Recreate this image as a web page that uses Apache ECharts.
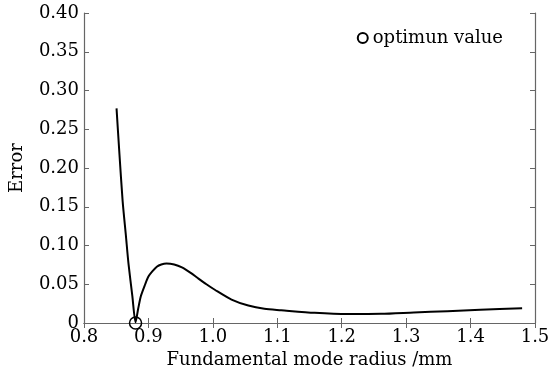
<!DOCTYPE html>
<html>
<head>
<meta charset="utf-8">
<script src="https://cdn.jsdelivr.net/npm/echarts@6/dist/echarts.min.js"></script>
<style>html,body{margin:0;padding:0;background:#fff;}#c{width:558px;height:374px;}</style>
</head>
<body>
<div id="c"></div>
<script>
// Data
const radius = [0.8505, 0.855, 0.860, 0.865, 0.869, 0.875, 0.880, 0.884, 0.888, 0.895, 0.900, 0.906, 0.913, 0.920, 0.928, 0.940, 0.952, 0.965, 0.977, 0.990, 1.003, 1.029, 1.055, 1.080, 1.106, 1.158, 1.209, 1.261, 1.312, 1.364, 1.415, 1.480];
const errorVals = [0.277, 0.218, 0.157, 0.113, 0.077, 0.035, 0.001, 0.018, 0.034, 0.050, 0.060, 0.0665, 0.0726, 0.0755, 0.0768, 0.0755, 0.0717, 0.0650, 0.0577, 0.0500, 0.0429, 0.0302, 0.0225, 0.0183, 0.0165, 0.0131, 0.0115, 0.0118, 0.0136, 0.0153, 0.0170, 0.0191];
const optimum = [[0.880, 0.0]];
const optimumName = 'optimun value';
const xTitle = 'Fundamental mode radius /mm';
const yTitle = 'Error';

const font = 'DejaVu Serif';
const fs = 18;
const axisColor = '#666';
const chart = echarts.init(document.getElementById('c'));
const commonX = {
  type: 'value', min: 0.8, max: 1.5, interval: 0.1,
  axisLine: { show: true, lineStyle: { color: axisColor, width: 1.2 } },
  axisTick: { show: true, inside: true, length: 5, lineStyle: { color: axisColor } },
  splitLine: { show: false }
};
const commonY = {
  type: 'value', min: 0, max: 0.4, interval: 0.05,
  axisLine: { show: true, lineStyle: { color: axisColor, width: 1.2 } },
  axisTick: { show: true, inside: true, length: 5, lineStyle: { color: axisColor } },
  splitLine: { show: false }
};
chart.setOption({
  animation: false,
  backgroundColor: '#fff',
  grid: { left: 82, right: 23, top: 13, bottom: 47, containLabel: false },
  legend: {
    data: [{ name: optimumName, icon: 'circle' }],
    right: 50, top: 24, itemWidth: 10, itemHeight: 10, itemGap: 4,
    textStyle: { fontFamily: font, fontSize: fs, color: '#000' }
  },
  xAxis: [
    Object.assign({}, commonX, {
      position: 'bottom',
      name: xTitle, nameLocation: 'middle', nameGap: 28,
      nameTextStyle: { fontFamily: font, fontSize: fs, color: '#000' },
      axisLabel: { fontFamily: font, fontSize: fs, color: '#000', margin: 5,
        formatter: v => v.toFixed(1) }
    }),
    Object.assign({}, commonX, { position: 'top', axisLabel: { show: false } })
  ],
  yAxis: [
    Object.assign({}, commonY, {
      position: 'left',
      name: yTitle, nameLocation: 'middle', nameGap: 58,
      nameTextStyle: { fontFamily: font, fontSize: fs, color: '#000' },
      axisLabel: { fontFamily: font, fontSize: fs, color: '#000', margin: 5,
        formatter: v => (v === 0 ? '0' : v.toFixed(2)) }
    }),
    Object.assign({}, commonY, { position: 'right', axisLabel: { show: false } })
  ],
  series: [
    {
      name: 'error', type: 'line', xAxisIndex: 0, yAxisIndex: 0,
      data: radius.map((r, i) => [r, errorVals[i]]),
      showSymbol: false, smooth: 0.25,
      lineStyle: { color: '#000', width: 2 }
    },
    {
      name: optimumName, type: 'scatter', xAxisIndex: 0, yAxisIndex: 0,
      data: optimum, symbol: 'circle', symbolSize: 12, clip: false,
      itemStyle: { color: 'rgba(0,0,0,0)', borderColor: '#000', borderWidth: 1.5, opacity: 1 },
      z: 5
    }
  ]
});
</script>
</body>
</html>
